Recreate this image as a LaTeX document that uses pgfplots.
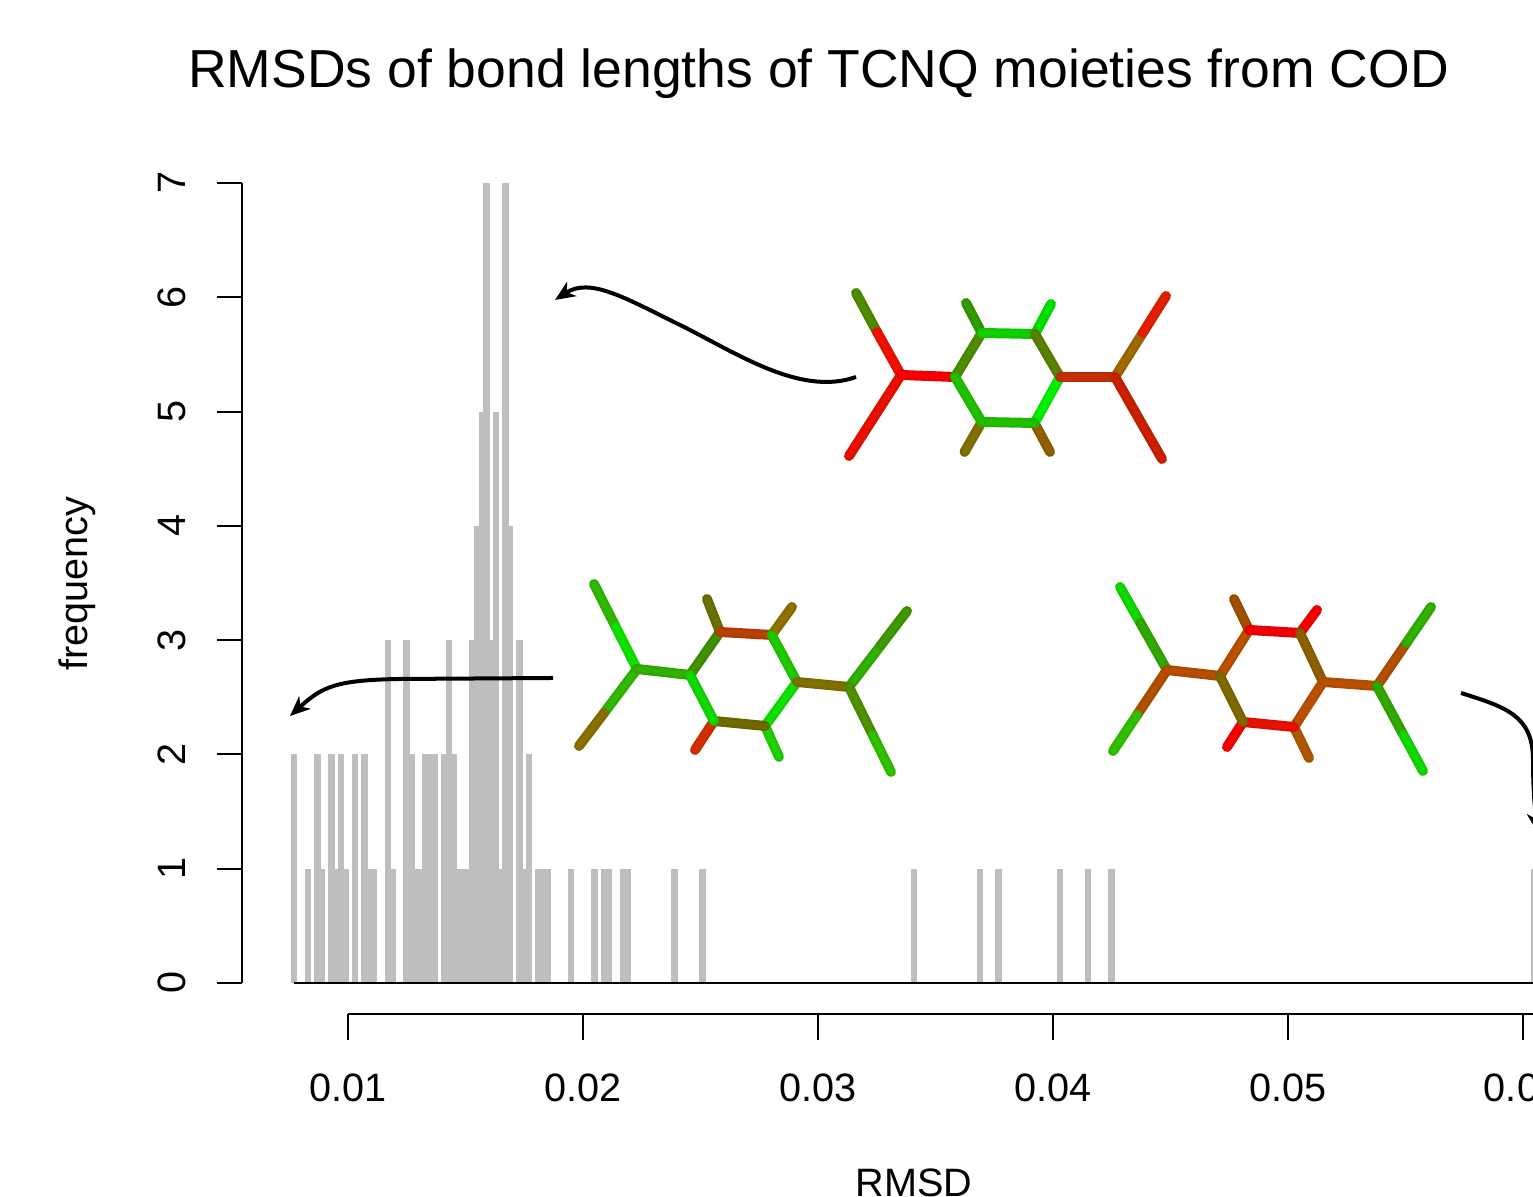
\documentclass[border=0pt]{standalone}
\usepackage{fontspec}
\setmainfont{Liberation Sans}
\usepackage{pgfplots}
\pgfplotsset{compat=1.18}
\usetikzlibrary{arrows.meta}
\definecolor{bargray}{HTML}{BEBEBE}
\newcommand{\fs}[1]{\fontsize{#1}{#1}\selectfont}
% one stick of a molecule: shaded rod with a lighter core
\newcommand{\bond}[3]{%
  \definecolor{tmpc}{HTML}{#3}%
  \draw[line cap=round,line width=5pt,tmpc!94!black] #1 -- #2;%
  \draw[line cap=round,line width=2.8pt,tmpc] #1 -- #2;%
}
\begin{document}
\begin{tikzpicture}
\useasboundingbox (0,0) rectangle (766.5pt,598.5pt);
\clip (0,0) rectangle (766.5pt,598.5pt);
\begin{axis}[
  at={(121pt,107pt)}, anchor=south west,
  scale only axis, width=645.5pt, height=400pt,
  xmin=0.005487, xmax=0.060447, ymin=0, ymax=7,
  axis x line=none, axis y line=left,
  y axis line style={-, line width=1pt},
  clip=false,
  xtick=\empty, ytick={0,1,...,7},
  tick align=outside, major tick length=12.5pt,
  tick style={black, line width=1pt},
  /pgf/number format/assume math mode=true,
  yticklabel style={font=\fs{19.8}, rotate=90, anchor=base, yshift=15.5pt},
  title={RMSDs of bond lengths of TCNQ moieties from COD},
  title style={font=\fs{26.75}, at={(axis description cs:0.4466,1.10375)}, anchor=base},
  ylabel={frequency},
  ylabel style={font=\fs{19.8}, at={(axis description cs:-0.1193,0.4994)}, anchor=base},
]
\addplot[ycomb, no marks, bargray, line width=3.25pt] coordinates {
(0.0077,2)(0.0083,1)(0.0087,2)(0.0089,1)(0.0093,2)(0.0095,1)(0.0097,2)(0.0099,1)
(0.0103,2)(0.0107,2)(0.0109,1)(0.0111,1)(0.0117,3)(0.0119,1)(0.0125,3)(0.0127,2)
(0.0129,1)(0.0131,1)(0.0133,2)(0.0135,2)(0.0137,2)(0.0141,2)(0.0143,3)(0.0145,2)
(0.0147,1)(0.0149,1)(0.0151,1)(0.0153,3)(0.0155,4)(0.0157,5)(0.0159,7)(0.0161,3)
(0.0163,5)(0.0165,1)(0.0167,7)(0.0169,4)(0.0173,3)(0.0175,1)(0.0177,2)(0.0181,1)
(0.0183,1)(0.0185,1)(0.0195,1)(0.0205,1)(0.0209,1)(0.0211,1)(0.0217,1)(0.0219,1)
(0.0239,1)(0.0251,1)(0.0341,1)(0.0369,1)(0.0377,1)(0.0403,1)(0.0415,1)(0.0425,1)
(0.0605,1)};
\addplot[no marks, black, line width=1pt] coordinates {(0.0077,0)(0.0605,0)};
\end{axis}
\begin{axis}[
  at={(174pt,91.5pt)}, anchor=south west,
  scale only axis, width=592.5pt, height=10pt,
  xmin=0.01, xmax=0.060447, ymin=0, ymax=1,
  axis y line=none, axis x line=bottom,
  x axis line style={-, line width=1pt},
  clip=false,
  scaled x ticks=false,
  xtick={0.01,0.02,0.03,0.04,0.05,0.06}, ytick=\empty,
  tick align=outside, major tick length=13pt,
  tick style={black, line width=1pt},
  /pgf/number format/assume math mode=true,
  /pgf/number format/fixed, /pgf/number format/fixed zerofill, /pgf/number format/precision=2,
  xticklabel style={font=\fs{19.8}, anchor=base, yshift=-31pt},
  xlabel={RMSD},
  xlabel style={font=\fs{19.8}, at={(axis description cs:0.4776,-9.1)}, anchor=base},
]
\addplot[draw=none, forget plot] coordinates {(0.01,0)(0.06,0)};
\end{axis}
\begin{scope}[shift={(0,598.5pt)}, x=0.5pt, y=-0.5pt]
% arrows
\draw[black, line width=2pt, -{Stealth[length=10pt,width=8.5pt,inset=3pt]}]
  (856,377) .. controls (800,397) and (735,352) .. (680,325)
  .. controls (625,298) and (590,277) .. (555,300);
\draw[black, line width=2pt, -{Stealth[length=10pt,width=8.5pt,inset=3pt]}]
  (553,678) -- (400,679) .. controls (335,680) and (322,687) .. (290,716);
\draw[black, line width=2pt, -{Stealth[length=10pt,width=8.5pt,inset=3pt]}]
  (1461,693) .. controls (1505,707) and (1533,715) .. (1533,760)
  .. controls (1533,790) and (1535,810) .. (1538,833);
% upper molecule
\bond{(856,293)}{(877,332)}{4F8A00}
\bond{(877,332)}{(901,375)}{F01000}
\bond{(901,375)}{(849,456)}{E81000}
\bond{(901,375)}{(955,377)}{F80000}
\bond{(981.7,333)}{(966,303)}{309A00}
\bond{(1035,334)}{(1051,304)}{00E000}
\bond{(981.7,422)}{(964.5,452)}{7F7000}
\bond{(1034.5,423)}{(1050,452)}{906000}
\bond{(955,377)}{(981.7,333)}{4C8C00}
\bond{(981.7,333)}{(1035,334)}{10D000}
\bond{(1035,334)}{(1060,377)}{5A8000}
\bond{(1060,377)}{(1034.5,423)}{00F000}
\bond{(1034.5,423)}{(981.7,422)}{20C000}
\bond{(981.7,422)}{(955,377)}{20C000}
\bond{(1060,377)}{(1115,377)}{C03000}
\bond{(1115,377)}{(1142.7,333)}{A06800}
\bond{(1142.7,333)}{(1166,296)}{E02000}
\bond{(1115,377)}{(1162,459)}{C82000}
% lower left molecule
\bond{(594,584)}{(615.5,626.5)}{30B800}
\bond{(615.5,626.5)}{(637,669)}{10E000}
\bond{(637,669)}{(604,713)}{30B800}
\bond{(604,713)}{(579,746)}{8A7000}
\bond{(637,669)}{(690,675)}{30B000}
\bond{(720,632)}{(707,599)}{6A7000}
\bond{(771.7,635)}{(792,607)}{907000}
\bond{(714,721)}{(695,750)}{D03000}
\bond{(765,726)}{(779,757)}{20D000}
\bond{(690,675)}{(720,632)}{409000}
\bond{(720,632)}{(771.7,635)}{B84000}
\bond{(771.7,635)}{(797,682)}{20C800}
\bond{(797,682)}{(765,726)}{10E000}
\bond{(765,726)}{(714,721)}{706800}
\bond{(714,721)}{(690,675)}{10D800}
\bond{(797,682)}{(849,687)}{807000}
\bond{(849,687)}{(881,645)}{30B000}
\bond{(881,645)}{(907,611)}{409800}
\bond{(849,687)}{(872.7,735)}{509000}
\bond{(872.7,735)}{(891,772)}{30C000}
% lower right molecule
\bond{(1120,587)}{(1140.4,623)}{10D800}
\bond{(1140.4,623)}{(1167,670)}{30A800}
\bond{(1167,670)}{(1137,715)}{B05000}
\bond{(1137,715)}{(1113,751)}{30C000}
\bond{(1167,670)}{(1220,676)}{B84C00}
\bond{(1249,630)}{(1234,599)}{A05000}
\bond{(1300,633)}{(1317,610)}{F80000}
\bond{(1243,722)}{(1227,747)}{F80000}
\bond{(1294,727)}{(1309,758)}{B05800}
\bond{(1220,676)}{(1249,630)}{B85000}
\bond{(1249,630)}{(1300,633)}{F00000}
\bond{(1300,633)}{(1323,682)}{8C6000}
\bond{(1323,682)}{(1294,727)}{B85000}
\bond{(1294,727)}{(1243,722)}{E81000}
\bond{(1243,722)}{(1220,676)}{806800}
\bond{(1323,682)}{(1377,686)}{B85000}
\bond{(1377,686)}{(1406.4,643)}{B05000}
\bond{(1406.4,643)}{(1431,607)}{30B000}
\bond{(1377,686)}{(1403.5,735)}{30A800}
\bond{(1403.5,735)}{(1423,771)}{10D800}
\end{scope}
\end{tikzpicture}
\end{document}
